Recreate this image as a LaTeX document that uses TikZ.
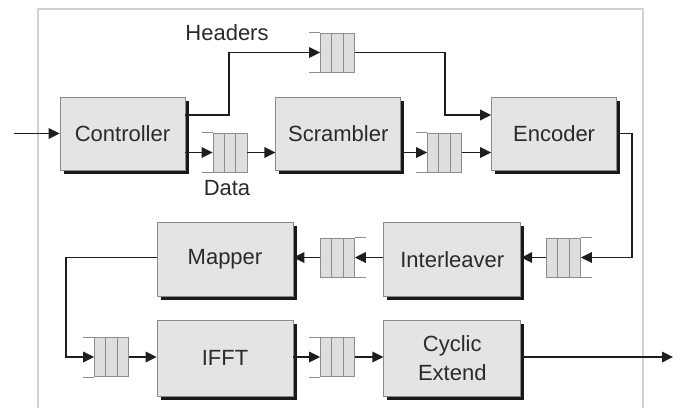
\documentclass[tikz,border=0pt]{standalone}
\usepackage{fontspec}
\setmainfont{Liberation Sans}
\usetikzlibrary{arrows.meta,calc,shadows,positioning}
\definecolor{boxfill}{HTML}{E4E4E4}
\definecolor{boxline}{HTML}{8A8A8A}
\definecolor{qfill}{HTML}{DEDEDE}
\definecolor{qline}{HTML}{8C8C8C}
\definecolor{wire}{HTML}{1E1E1E}
\definecolor{frame}{HTML}{D2D2D2}
\definecolor{txtcol}{HTML}{2A2A2A}

\begin{document}
\begin{tikzpicture}[x=1pt,y=-1pt,>={Triangle[length=11pt,width=10.5pt]}]
    \tikzstyle{blk}=[rectangle,draw=boxline,fill=boxfill,line width=0.8pt,
    font=\fontsize{22}{29}\selectfont,text=txtcol,align=center,inner sep=0pt,
    minimum height=74pt,
    drop shadow={shadow xshift=3.5pt,shadow yshift=-3.5pt,fill=black!90,opacity=1}]

    \tikzstyle{fifo}=[rectangle,draw=qline,fill=qfill,line width=0.8pt,inner sep=0pt,
    minimum width=34pt,minimum height=39pt,
    path picture={\foreach \k in {1,2}
      \draw[qline,line width=0.8pt]
      ($(path picture bounding box.north west)!\k/3!(path picture bounding box.north east)$) --
      ($(path picture bounding box.south west)!\k/3!(path picture bounding box.south east)$);}]

    \tikzstyle{txt}=[font=\fontsize{22}{26}\selectfont,text=txtcol]
    \tikzstyle{wire}=[draw=wire,line width=1.8pt]

    \useasboundingbox (0,0) rectangle (680,408);

    % frame, open at the bottom
    \draw[frame,line width=1.5pt] (38,408) -- (38,9) -- (643,9) -- (643,408);

    % top row
    \node[blk,minimum width=125pt,minimum height=73pt](ctrl) at (122.5,133.5){Controller};
    \node[blk,minimum width=125pt,minimum height=73pt](scram)[right=90pt of ctrl]{Scrambler};
    \node[blk,minimum width=125pt,minimum height=73pt](enc)[right=90pt of scram]{Encoder};

    % bottom rows
    \node[blk,minimum width=136pt](map) at (225,259.5){Mapper};
    \node[blk,minimum width=137pt](intl)[right=90pt of map]{Interleaver};
    \node[blk,minimum width=136pt,minimum height=76pt](ifft)[below=23pt of map]{IFFT};
    \node[blk,minimum width=137pt,minimum height=76pt](cyc)[right=90pt of ifft]{Cyclic\\Extend};

    % queues
    \node[fifo](q_hdr) at (337.5,52.5){};
    \node[fifo](q_data) at (230,152.5){};
    \node[fifo](q_scr) at (444.5,152.5){};
    \node[fifo](q_enc) at (563.5,257.5){};
    \node[fifo](q_int) at (337.5,257.5){};
    \node[fifo](q_map) at (111.5,357){};
    \node[fifo](q_ifft) at (337.5,357){};

    \foreach \q in {q_hdr,q_data,q_scr,q_map,q_ifft}
      \draw[qline,line width=0.8pt] (\q.north west) -- ++(-11pt,0pt) (\q.south west) -- ++(-11pt,0pt);
    \foreach \q in {q_enc,q_int}
      \draw[qline,line width=0.8pt] (\q.north east) -- ++(11pt,0pt) (\q.south east) -- ++(11pt,0pt);

    \node[txt](hdr_lbl) at (227,33){Headers};
    \node[txt](data_lbl) at (227,188){Data};

    \coordinate (in) at (14,133.5);
    \coordinate (hsplit) at (229,115);
    \coordinate (hturn) at (445,115);
    \coordinate (eturn) at (632,257.5);
    \coordinate (mturn) at (66,257.5);
    \coordinate (out) at (673,357);

    \draw[wire,->] (in) -- (ctrl.west);

    \draw[wire,->] (ctrl.east |- hsplit) -- (hsplit) |- (q_hdr.west);
    \draw[wire,->] (q_hdr.east) -| (hturn) -- (hturn -| enc.west);

    \draw[wire,->] (ctrl.east |- q_data.west) -- (q_data.west);
    \draw[wire,->] (q_data.east) -- (q_data.east -| scram.west);
    \draw[wire,->] (scram.east |- q_scr.west) -- (q_scr.west);
    \draw[wire,->] (q_scr.east) -- (q_scr.east -| enc.west);

    \draw[wire,->] (enc.east) -| (eturn) -- (q_enc.east);
    \draw[wire,->] (q_enc.west) -- (q_enc.west -| intl.east);
    \draw[wire,->] (intl.west |- q_int.east) -- (q_int.east);
    \draw[wire,->] (q_int.west) -- (q_int.west -| map.east);

    \draw[wire,->] (map.west |- mturn) -- (mturn) |- (q_map.west);
    \draw[wire,->] (q_map.east) -- (q_map.east -| ifft.west);
    \draw[wire,->] (ifft.east |- q_ifft.west) -- (q_ifft.west);
    \draw[wire,->] (q_ifft.east) -- (q_ifft.east -| cyc.west);

    \draw[wire,->] (cyc.east |- out) -- (out);
  \end{tikzpicture}
\end{document}
